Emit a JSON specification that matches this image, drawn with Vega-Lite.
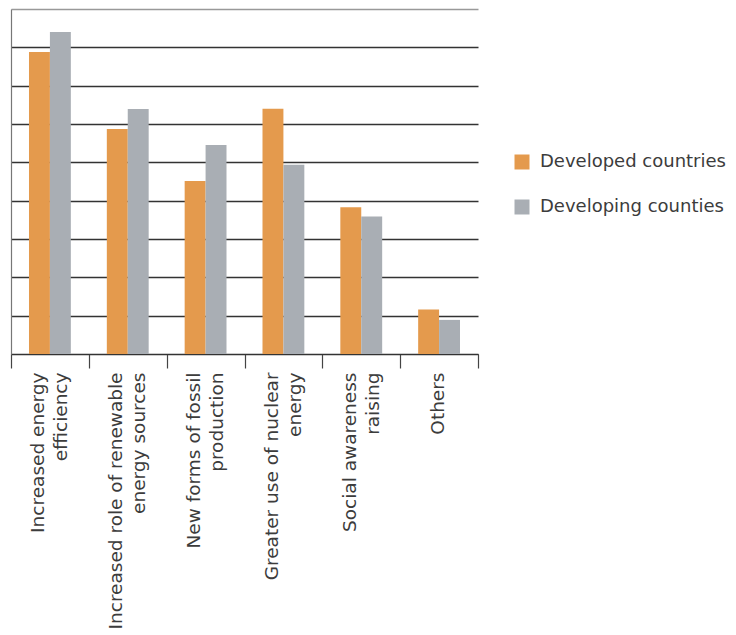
{
  "$schema": "https://vega.github.io/schema/vega-lite/v6.json",
  "autosize": {"type": "none"},
  "padding": {"left": 11, "top": 9, "right": 258, "bottom": 281},
  "width": 467,
  "height": 345,
  "background": "white",
  "config": {
    "view": {"stroke": null},
    "font": "DejaVu Sans"
  },
  "data": {
    "values": [
      {"category": "Increased energy|efficiency", "group": "Developed countries", "value": 7.88},
      {"category": "Increased energy|efficiency", "group": "Developing counties", "value": 8.4},
      {"category": "Increased role of renewable|energy sources", "group": "Developed countries", "value": 5.87},
      {"category": "Increased role of renewable|energy sources", "group": "Developing counties", "value": 6.39},
      {"category": "New forms of fossil|production", "group": "Developed countries", "value": 4.51},
      {"category": "New forms of fossil|production", "group": "Developing counties", "value": 5.45},
      {"category": "Greater use of nuclear|energy", "group": "Developed countries", "value": 6.4},
      {"category": "Greater use of nuclear|energy", "group": "Developing counties", "value": 4.94},
      {"category": "Social awareness|raising", "group": "Developed countries", "value": 3.83},
      {"category": "Social awareness|raising", "group": "Developing counties", "value": 3.59},
      {"category": "Others", "group": "Developed countries", "value": 1.16},
      {"category": "Others", "group": "Developing counties", "value": 0.89}
    ]
  },
  "mark": {"type": "bar"},
  "encoding": {
    "x": {
      "field": "category",
      "type": "nominal",
      "sort": null,
      "scale": {"paddingInner": 0, "paddingOuter": 0},
      "axis": {
        "title": null,
        "labelAngle": -90,
        "labelAlign": "right",
        "labelBaseline": "middle",
        "labelExpr": "split(datum.label, '|')",
        "labelOffset": {"condition": {"test": "indexof(datum.label, '|') >= 0", "value": -12}, "value": -1.5},
        "labelLineHeight": 23,
        "labelFontSize": 18.5,
        "labelFont": "DejaVu Sans",
        "labelColor": "#3c3c3c",
        "labelPadding": 4,
        "labelLimit": 400,
        "tickBand": "extent",
        "tickSize": 14,
        "tickColor": "#444",
        "tickWidth": 1.2,
        "domainColor": "#333",
        "domainWidth": 1.2,
        "grid": false
      }
    },
    "xOffset": {
      "field": "group",
      "type": "nominal",
      "scale": {"paddingInner": 0, "paddingOuter": 0.86}
    },
    "y": {
      "field": "value",
      "type": "quantitative",
      "scale": {"domain": [0, 9], "nice": false},
      "axis": {
        "title": null,
        "labels": false,
        "ticks": false,
        "values": [0, 1, 2, 3, 4, 5, 6, 7, 8, 9],
        "domainColor": "#777",
        "domainWidth": 1.2,
        "grid": true,
        "gridColor": {"condition": {"test": "datum.value == 9", "value": "#999999"}, "value": "#333333"},
        "gridWidth": 1.3,
        "gridOpacity": 1
      }
    },
    "color": {
      "field": "group",
      "type": "nominal",
      "scale": {"domain": ["Developed countries", "Developing counties"], "range": ["#E49A4D", "#A9AEB4"]},
      "legend": {
        "title": null,
        "orient": "none",
        "legendX": 502,
        "legendY": 144,
        "padding": 0,
        "symbolType": "square",
        "symbolSize": 225,
        "symbolStrokeWidth": 0,
        "symbolOffset": 0,
        "labelOffset": 9,
        "labelFontSize": 18,
        "labelFont": "DejaVu Sans",
        "labelColor": "#3c3c3c",
        "labelLimit": 400,
        "rowPadding": 27
      }
    }
  }
}
